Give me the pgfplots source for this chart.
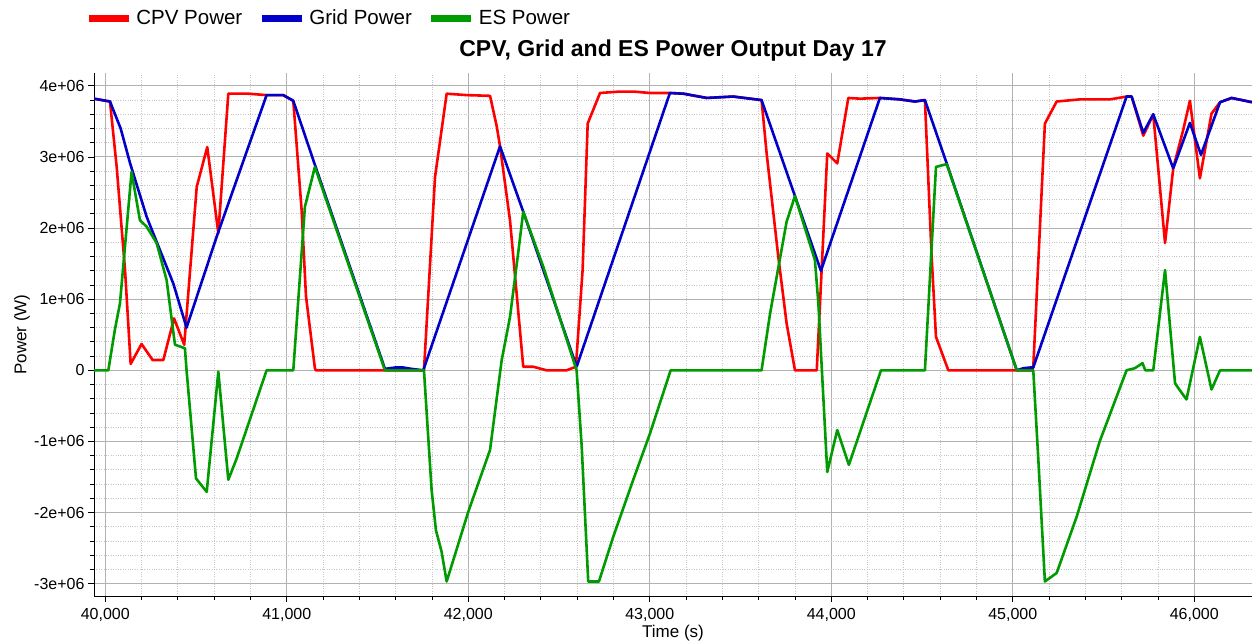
\documentclass[border=0pt]{standalone}
\usepackage{fontspec}
\setmainfont{Liberation Sans}
\usepackage{pgfplots}
\usepackage{pgfplotstable}
\pgfplotsset{compat=1.18}
\definecolor{cpvred}{RGB}{255,0,0}
\definecolor{gridblue}{RGB}{0,0,200}
\definecolor{esgreen}{RGB}{0,155,0}

\pgfplotstableread{
t P
39938 3.82e6
40026 3.78e6
40063 2.86e6
40109 1.41e6
40140 0.09e6
40200 0.37e6
40261 0.145e6
40320 0.145e6
40379 0.73e6
40435 0.36e6
40504 2.58e6
40562 3.14e6
40623 1.93e6
40678 3.89e6
40788 3.89e6
40889 3.87e6
40981 3.87e6
41036 3.79e6
41082 2.25e6
41106 1.04e6
41155 0.03e6
41160 0
41756 0
41817 2.72e6
41881 3.89e6
41991 3.87e6
42120 3.86e6
42157 3.43e6
42175 3.15e6
42230 2.11e6
42303 0.05e6
42358 0.05e6
42432 0
42542 0
42593 0.05e6
42630 1.41e6
42658 3.47e6
42726 3.90e6
42836 3.92e6
42909 3.92e6
43001 3.90e6
43111 3.90e6
43185 3.89e6
43314 3.83e6
43460 3.85e6
43616 3.80e6
43644 3.05e6
43708 1.60e6
43754 0.66e6
43800 0
43920 0
43947 1.41e6
43978 3.05e6
44033 2.91e6
44094 3.83e6
44158 3.82e6
44268 3.83e6
44378 3.81e6
44461 3.78e6
44516 3.80e6
44553 1.60e6
44577 0.47e6
44645 0
45105 0
45113 0.04e6
45177 3.47e6
45242 3.78e6
45370 3.81e6
45536 3.81e6
45627 3.85e6
45655 3.85e6
45719 3.30e6
45774 3.60e6
45839 1.79e6
45884 2.84e6
45939 3.38e6
45976 3.79e6
46031 2.70e6
46095 3.61e6
46142 3.77e6
46206 3.83e6
46318 3.77e6
}\cpvdata

\pgfplotstableread{
t P
39938 3.82e6
40026 3.78e6
40085 3.40e6
40137 2.91e6
40228 2.16e6
40375 1.22e6
40448 0.60e6
40614 1.88e6
40889 3.87e6
40981 3.87e6
41036 3.79e6
41155 2.89e6
41541 0.02e6
41600 0.04e6
41640 0.04e6
41688 0.02e6
41752 0
42175 3.15e6
42303 2.23e6
42597 0.05e6
43111 3.90e6
43185 3.89e6
43314 3.83e6
43460 3.85e6
43616 3.80e6
43800 2.45e6
43943 1.40e6
44268 3.83e6
44378 3.81e6
44461 3.78e6
44516 3.80e6
44636 2.91e6
45022 0
45060 0.03e6
45100 0.04e6
45113 0.04e6
45627 3.85e6
45655 3.85e6
45719 3.34e6
45774 3.60e6
45884 2.84e6
45976 3.48e6
46037 3.03e6
46142 3.77e6
46206 3.83e6
46318 3.77e6
}\griddata

\pgfplotstableread{
t P
39938 0
40017 0
40053 0.57e6
40081 0.94e6
40145 2.79e6
40191 2.11e6
40228 2.02e6
40283 1.79e6
40338 1.27e6
40384 0.36e6
40439 0.31e6
40448 0
40500 -1.52e6
40559 -1.71e6
40623 -0.02e6
40678 -1.54e6
40724 -1.24e6
40889 0
41036 0
41100 2.30e6
41155 2.86e6
41541 0
41756 0
41798 -1.68e6
41822 -2.25e6
41853 -2.55e6
41881 -2.97e6
42000 -1.99e6
42120 -1.12e6
42184 0.14e6
42230 0.75e6
42275 1.65e6
42303 2.23e6
42413 1.46e6
42597 0
42625 -1.07e6
42661 -2.97e6
42720 -2.97e6
42799 -2.34e6
42909 -1.54e6
43001 -0.89e6
43115 0
43616 0
43663 0.80e6
43754 2.09e6
43800 2.45e6
43910 1.55e6
43929 0.94e6
43978 -1.43e6
44033 -0.84e6
44097 -1.33e6
44274 0
44516 0
44577 2.86e6
44636 2.90e6
45022 0
45113 0
45141 -1.26e6
45177 -2.97e6
45242 -2.85e6
45352 -2.06e6
45479 -1.00e6
45627 0
45673 0.03e6
45715 0.10e6
45730 0
45774 0
45839 1.41e6
45894 -0.18e6
45912 -0.25e6
45957 -0.41e6
46031 0.47e6
46095 -0.27e6
46142 0
46318 0
}\esdata

\begin{document}
\begin{tikzpicture}
\begin{axis}[
  at={(94pt,47pt)}, anchor=south west,
  scale only axis, width=1158pt, height=523pt,
  xmin=39938, xmax=46318, ymin=-3.174e6, ymax=4.181e6,
  axis x line*=bottom, axis y line*=left,
  axis line style={black, line width=1pt},
  xtick={40000,41000,42000,43000,44000,45000,46000},
  xticklabels={{40,000},{41,000},{42,000},{43,000},{44,000},{45,000},{46,000}},
  ytick={-3e6,-2e6,-1e6,0,1e6,2e6,3e6,4e6},
  yticklabels={-3e+06,-2e+06,-1e+06,0,1e+06,2e+06,3e+06,4e+06},
  scaled ticks=false,
  minor x tick num=4, minor y tick num=4,
  tick align=outside, major tick length=6pt, minor tick length=3.5pt,
  every tick/.style={black, line width=0.8pt},
  grid=both,
  major grid style={color=black!30, line width=1pt},
  minor grid style={color=black!22, dotted, line width=0.9pt},
  ticklabel style={font=\fontsize{16}{19}\selectfont},
  xticklabel style={yshift=-3pt},
  xlabel={Time (s)}, ylabel={Power (W)},
  xlabel style={font=\fontsize{17}{20}\selectfont, at={(axis description cs:0.5,-0.0707)}, anchor=center},
  ylabel style={font=\fontsize{17}{20}\selectfont, at={(axis description cs:-0.0622,0.5)}, anchor=center},
  title={CPV, Grid and ES Power Output Day 17},
  title style={font=\fontsize{23}{27}\selectfont\bfseries, at={(axis description cs:0.5,1.0306)}, anchor=center},
  legend columns=-1,
  legend style={at={(axis description cs:-0.0076,1.1046)}, anchor=west, draw=none, fill=none,
    inner sep=0pt, font=\fontsize{20.5}{24}\selectfont,
    /tikz/every odd column/.append style={column sep=2pt},
    /tikz/every even column/.append style={column sep=14pt}},
  legend image code/.code={\draw[#1, line width=7pt, line cap=butt] (0pt,0pt) -- (40pt,0pt);},
  every axis plot/.append style={line width=2.6pt, line join=round},
]
\addplot[cpvred, no marks] table[x=t, y=P] {\cpvdata};
\addlegendentry{CPV Power}
\addplot[gridblue, no marks] table[x=t, y=P] {\griddata};
\addlegendentry{Grid Power}
\addplot[esgreen, no marks] table[x=t, y=P] {\esdata};
\addlegendentry{ES Power}
\end{axis}
\pgfresetboundingbox
\useasboundingbox (0,0) rectangle (1252pt,643pt);
\end{tikzpicture}
\end{document}
